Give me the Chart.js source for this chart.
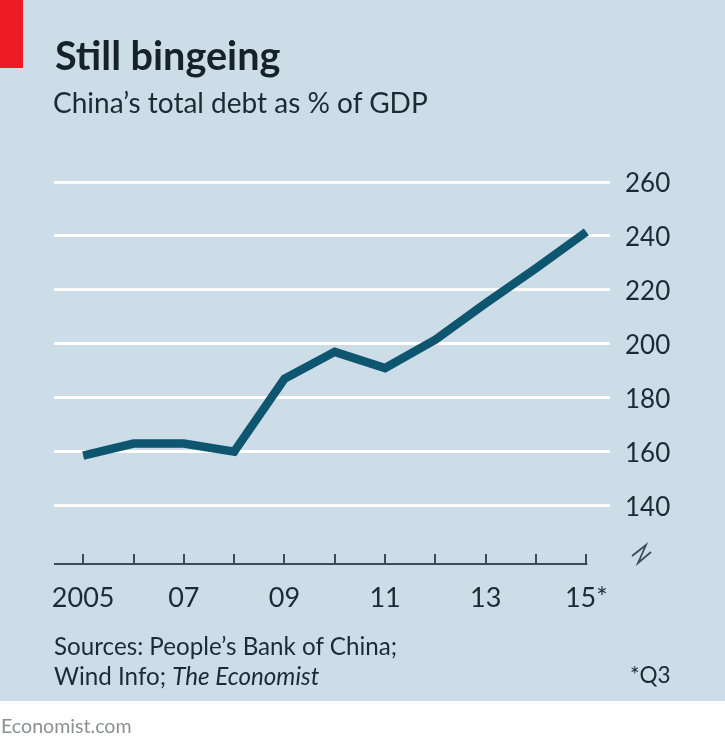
<!DOCTYPE html>
<html>
<head>
<meta charset="utf-8">
<title>Still bingeing</title>
<script src="https://cdn.jsdelivr.net/npm/chart.js@4"></script>
<style>
    html, body { margin: 0; padding: 0; background: #fff; }
    #page { position: relative; width: 725px; height: 747px; overflow: hidden; font-family: Lato, sans-serif; color: #1c2a33; }
    #panel { position: absolute; left: 0; top: 0; width: 725px; height: 701px; background: #cddde7; }
    #flag { position: absolute; left: 0; top: 0; width: 23px; height: 68px; background: #ed1c24; }
    canvas { position: absolute; left: 0; top: 0; }
    .txt { position: absolute; white-space: nowrap; transform-origin: left top; }
    #title { left: 55px; top: 31px; font-size: 39.6px; font-weight: 700; color: #17212a; }
    #subtitle { left: 53px; top: 85px; font-size: 28px; }
    #source { left: 54px; top: 631px; font-size: 24.2px; line-height: 30px; }
    #note { left: 630px; top: 661px; font-size: 22.5px; }
    #credit { left: 1px; top: 714px; font-size: 19.6px; color: #8b8f91; }
</style>
</head>
<body>
<div id="page">
    <div id="panel"></div>
    <div id="flag"></div>
    <canvas id="debtChart" width="725" height="747"></canvas>
    <div class="txt" id="title">Still bingeing</div>
    <div class="txt" id="subtitle">China’s total debt as % of GDP</div>
    <div class="txt" id="source">Sources: People’s Bank of China;<br>Wind Info; <i>The Economist</i></div>
    <div class="txt" id="note">*Q3</div>
    <div class="txt" id="credit">Economist.com</div>
</div>
<script>
// Values
const years = [2005, 2006, 2007, 2008, 2009, 2010, 2011, 2012, 2013, 2014, 2015];
const debtPct = [158.5, 163, 163, 160, 187, 197, 191, 201.5, 215, 228, 241.5];
const yTicks = [140, 160, 180, 200, 220, 240, 260];
const xLabels = { 2005: '2005', 2007: '07', 2009: '09', 2011: '11', 2013: '13', 2015: '15*' };

const ink = '#1c2a33';
const axisColor = '#3d4d57';

// Baseline, upward tick marks and the axis break
const axisMarks = {
    id: 'axisMarks',
    afterDatasetsDraw(chart) {
        const { ctx, scales } = chart;
        const base = chart.chartArea.bottom;
        ctx.save();
        ctx.strokeStyle = axisColor;
        ctx.lineWidth = 2;
        ctx.beginPath();
        ctx.moveTo(chart.chartArea.left, base);
        ctx.lineTo(scales.x.getPixelForValue(years[years.length - 1]) + 1, base);
        years.forEach(y => {
            const px = Math.round(scales.x.getPixelForValue(y));
            ctx.moveTo(px, base);
            ctx.lineTo(px, base - 10);
        });
        ctx.stroke();

        // break symbol under the last y label
        ctx.lineWidth = 1.8;
        ctx.beginPath();
        ctx.moveTo(632, 556);
        ctx.lineTo(646, 545);
        ctx.lineTo(638, 563);
        ctx.lineTo(651, 552);
        ctx.stroke();
        ctx.restore();
    }
};

new Chart(document.getElementById('debtChart'), {
    type: 'line',
    data: {
        datasets: [{
            data: years.map((y, i) => ({ x: y, y: debtPct[i] })),
            borderColor: '#0e5570',
            borderWidth: 8.5,
            pointRadius: 0,
            tension: 0,
            borderJoinStyle: 'miter',
            borderCapStyle: 'butt'
        }]
    },
    options: {
        responsive: false,
        animation: false,
        devicePixelRatio: 1,
        layout: { padding: { left: 54, top: 182, right: 0, bottom: 118 } },
        plugins: { legend: { display: false }, tooltip: { enabled: false } },
        scales: {
            x: {
                type: 'linear',
                min: 2004.42,
                max: 2015.47,
                border: { display: false },
                grid: { display: false, drawTicks: false },
                afterBuildTicks: scale => { scale.ticks = years.map(y => ({ value: y })); },
                afterFit: scale => { scale.height = 65; },
                ticks: {
                    autoSkip: false,
                    maxRotation: 0,
                    padding: 18,
                    color: ink,
                    font: { family: 'Lato', size: 27 },
                    callback: v => xLabels[v] || ''
                }
            },
            y: {
                position: 'right',
                min: 118.3,
                max: 260,
                border: { display: false },
                grid: { color: '#ffffff', lineWidth: 3, drawTicks: false },
                afterBuildTicks: scale => { scale.ticks = yTicks.map(v => ({ value: v })); },
                afterFit: scale => { scale.width = 115; },
                ticks: {
                    padding: 15,
                    labelOffset: 2,
                    color: ink,
                    font: { family: 'Lato', size: 26 }
                }
            }
        }
    },
    plugins: [axisMarks]
});
</script>
</body>
</html>
